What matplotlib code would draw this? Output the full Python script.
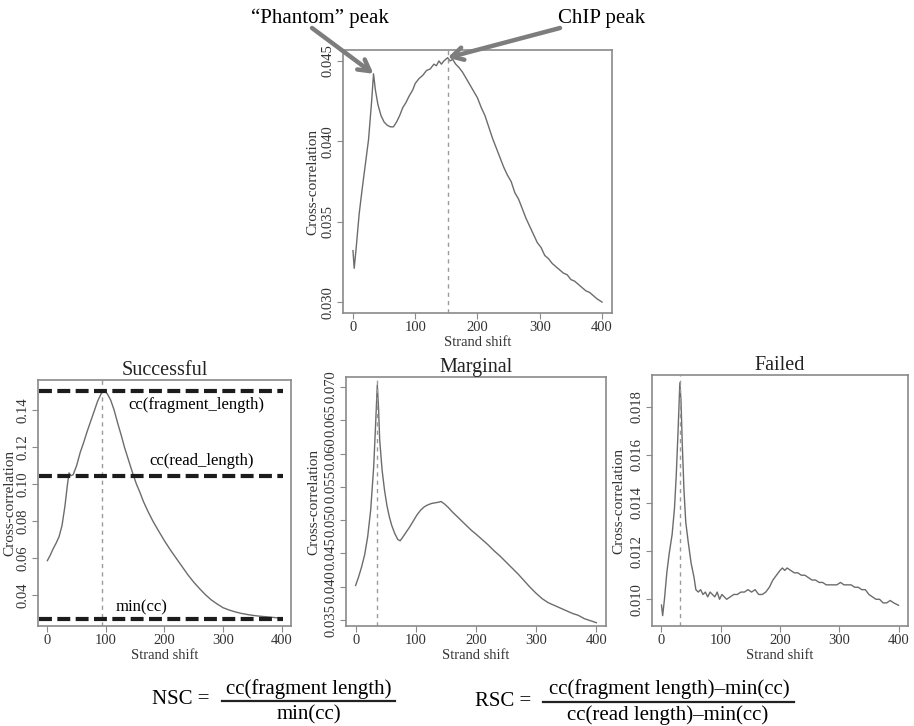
import numpy as np
import matplotlib
matplotlib.use("Agg")
import matplotlib.pyplot as plt
from matplotlib.lines import Line2D

plt.rcParams['font.family'] = 'serif'
plt.rcParams['font.serif'] = ['Liberation Serif', 'DejaVu Serif']

W, H = 914, 726

# --- data ---
top_x = [0, 2, 5, 10, 15, 20, 25, 30, 33, 36, 40, 45, 50, 55, 60, 65, 70, 75, 80, 85,
         90, 96, 100, 106, 112, 118, 124, 130, 134, 138, 142, 146, 152, 156, 160, 165,
         170, 176, 182, 188, 194, 200, 206, 212, 218, 224, 230, 236, 242, 248, 254, 260,
         266, 272, 278, 284, 290, 296, 302, 308, 314, 320, 326, 332, 338, 344, 350, 356,
         362, 368, 374, 380, 386, 392, 400]
top_y = [0.0332, 0.0321, 0.0333, 0.0355, 0.0371, 0.0386, 0.0401, 0.0425, 0.0442, 0.0432,
         0.0423, 0.0416, 0.0412, 0.0410, 0.0409, 0.0409, 0.0412, 0.0416, 0.0421, 0.0424,
         0.0428, 0.0432, 0.0436, 0.0439, 0.0441, 0.0444, 0.0445, 0.0448, 0.0447, 0.0450,
         0.0448, 0.0450, 0.0452, 0.0450, 0.0451, 0.0448, 0.0446, 0.0443, 0.0439, 0.0435,
         0.0431, 0.0427, 0.0421, 0.0416, 0.0409, 0.0402, 0.0396, 0.0390, 0.0384, 0.0379,
         0.0375, 0.0368, 0.0364, 0.0358, 0.0352, 0.0347, 0.0342, 0.0337, 0.0334, 0.0329,
         0.0327, 0.0324, 0.0322, 0.0320, 0.0318, 0.0317, 0.0314, 0.0313, 0.0311, 0.0309,
         0.0307, 0.0306, 0.0304, 0.0302, 0.0300]
top_peak = 152

succ_x = [0, 5, 10, 15, 20, 25, 30, 34, 37, 40, 44, 50, 56, 62, 68, 74, 80, 86, 92, 97,
          102, 108, 114, 120, 126, 132, 140, 146, 152, 158, 164, 172, 180, 190, 200, 210,
          220, 230, 240, 250, 260, 270, 280, 290, 300, 310, 320, 330, 340, 350, 360, 370,
          380, 390, 400]
succ_y = [0.0585, 0.0615, 0.0650, 0.0680, 0.0715, 0.0775, 0.0880, 0.0990, 0.1060, 0.1045,
          0.1050, 0.1100, 0.1170, 0.1225, 0.1285, 0.1340, 0.1395, 0.1450, 0.1490, 0.1505,
          0.1490, 0.1455, 0.1400, 0.1330, 0.1265, 0.1195, 0.1115, 0.1055, 0.1000, 0.0955,
          0.0905, 0.0850, 0.0800, 0.0745, 0.0692, 0.0643, 0.0598, 0.0553, 0.0508, 0.0468,
          0.0433, 0.0400, 0.0372, 0.0350, 0.0330, 0.0318, 0.0308, 0.0300, 0.0294, 0.0289,
          0.0285, 0.0282, 0.0279, 0.0276, 0.0273]
succ_peak = 94
cc_fragment = 0.1505
cc_read = 0.1045
cc_min = 0.0269

marg_x = [0, 5, 10, 15, 20, 25, 30, 33, 36, 38, 40, 44, 48, 52, 56, 60, 65, 70, 74, 78,
          84, 90, 96, 102, 108, 114, 120, 126, 132, 138, 142, 148, 154, 160, 168, 176,
          184, 192, 200, 210, 220, 230, 240, 250, 260, 270, 280, 290, 300, 310, 320, 330,
          340, 350, 360, 370, 380, 390, 400]
marg_y = [0.0402, 0.0415, 0.0430, 0.0448, 0.0475, 0.0515, 0.0580, 0.0640, 0.0703, 0.0670,
          0.0620, 0.0575, 0.0545, 0.0522, 0.0505, 0.0492, 0.0480, 0.0471, 0.0469, 0.0474,
          0.0482, 0.0490, 0.0499, 0.0508, 0.0515, 0.0520, 0.0523, 0.0525, 0.0526, 0.0527,
          0.0528, 0.0524, 0.0519, 0.0513, 0.0506, 0.0499, 0.0492, 0.0485, 0.0479, 0.0471,
          0.0463, 0.0454, 0.0446, 0.0437, 0.0428, 0.0419, 0.0409, 0.0399, 0.0390, 0.0382,
          0.0376, 0.0372, 0.0368, 0.0364, 0.0360, 0.0357, 0.0352, 0.0349, 0.0346]
marg_peak = 36

fail_x = [0, 2, 5, 9, 13, 18, 22, 25, 28, 31, 33, 35, 38, 41, 45, 50, 55, 58, 62, 66,
          70, 74, 78, 82, 86, 90, 94, 98, 102, 106, 110, 116, 122, 128, 134, 140, 146,
          152, 158, 164, 170, 176, 182, 188, 194, 200, 204, 208, 212, 218, 224, 230, 236,
          242, 248, 254, 260, 266, 272, 278, 284, 290, 296, 302, 308, 314, 320, 326, 332,
          338, 344, 350, 356, 362, 368, 374, 380, 386, 392, 400]
fail_y = [0.00976, 0.00932, 0.0100, 0.0111, 0.0119, 0.0127, 0.0138, 0.0152, 0.0170, 0.0190,
          0.0182, 0.0165, 0.0145, 0.0132, 0.0124, 0.0115, 0.0109, 0.0104, 0.0103, 0.0104,
          0.0102, 0.0103, 0.0101, 0.0103, 0.0102, 0.0101, 0.0103, 0.0100, 0.0102, 0.0101,
          0.0100, 0.0101, 0.0102, 0.0102, 0.0103, 0.0103, 0.0104, 0.0103, 0.0104, 0.0102,
          0.0102, 0.0103, 0.0105, 0.0108, 0.0110, 0.0112, 0.0113, 0.0112, 0.0113, 0.0112,
          0.0111, 0.0111, 0.0110, 0.0110, 0.0109, 0.0108, 0.0108, 0.0107, 0.0107, 0.0106,
          0.0106, 0.0106, 0.0106, 0.0107, 0.0106, 0.0106, 0.0106, 0.0105, 0.0105, 0.0104,
          0.0104, 0.0102, 0.0101, 0.0100, 0.0100, 0.00985, 0.00985, 0.00995, 0.00985, 0.00975]
fail_peak = 32

xticks = [0, 100, 200, 300, 400]

CURVE = '#6c6c6c'
FRAME = '#8a8a8a'


def box(l, t, r, b):
    # pixel box -> figure fraction rect
    return [l / W, 1 - b / H, (r - l) / W, (b - t) / H]


def fx(x):
    return x / W


def fy(y):
    return 1 - y / H


def panel(rect, xs, ys, peak, ylim, yticks, yfmt, title=None, ylpad=2):
    ax = fig.add_axes(rect)
    ax.plot(xs, ys, color=CURVE, lw=1.0)
    ax.axvline(peak, color='#9a9a9a', lw=1.0, ls=(0, (3, 3)))
    ax.set_xlim(-16, 416)
    ax.set_ylim(*ylim)
    ax.set_xticks(xticks)
    ax.set_yticks(yticks)
    ax.set_yticklabels([yfmt.format(v) for v in yticks], rotation=90, va='center')
    for s in ax.spines.values():
        s.set_color(FRAME)
        s.set_linewidth(1.2)
    ax.tick_params(colors='#333333', length=4, width=0.8, pad=2, labelsize=10.5)
    ax.tick_params(color=FRAME)
    ax.set_xlabel('Strand shift', fontsize=10.5, labelpad=1, color='#333333')
    ax.set_ylabel('Cross-correlation', fontsize=11, labelpad=ylpad, color='#333333')
    if title:
        ax.set_title(title, fontsize=14.5, pad=3, color='#222222')
    return ax


fig = plt.figure(figsize=(W / 100, H / 100), dpi=100)

# top panel
ax0 = panel(box(343, 50, 612, 313), top_x, top_y, top_peak, (0.02932, 0.04568),
            [0.030, 0.035, 0.040, 0.045], '{:.3f}')

# bottom panels
ax1 = panel(box(38, 380, 291, 626), succ_x, succ_y, succ_peak, (0.0231, 0.1563),
            [0.04, 0.06, 0.08, 0.10, 0.12, 0.14], '{:.2f}', 'Successful', ylpad=0)
ax2 = panel(box(346, 377, 606, 626), marg_x, marg_y, marg_peak, (0.0341, 0.0715),
            [0.035, 0.040, 0.045, 0.050, 0.055, 0.060, 0.065, 0.070], '{:.3f}', 'Marginal',
            ylpad=3)
ax3 = panel(box(652, 375, 908, 626), fail_x, fail_y, fail_peak, (0.00889, 0.01932),
            [0.010, 0.012, 0.014, 0.016, 0.018], '{:.3f}', 'Failed', ylpad=4)

# reference levels on the successful panel
for lvl in [cc_fragment, cc_read, cc_min]:
    ax1.plot([-14, 403], [lvl, lvl], color='#1c1c1c', lw=3, ls=(0, (3.1, 1.3)),
             solid_capstyle='butt', dash_capstyle='butt')
ax1.text(254, 0.1425, 'cc(fragment_length)', ha='center', va='center', fontsize=12)
ax1.text(263, 0.1125, 'cc(read_length)', ha='center', va='center', fontsize=12)
ax1.text(161, 0.0334, 'min(cc)', ha='center', va='center', fontsize=12)

# arrows to the peaks of the top panel
arrow = dict(arrowstyle='->,head_length=0.8,head_width=0.45', color='#7d7d7d', lw=3.2,
             shrinkA=0, shrinkB=0)
ax0.annotate('', xy=(top_x[8], top_y[8]), xytext=(fx(312), fy(28)),
             textcoords='figure fraction', arrowprops=arrow)
ax0.annotate('', xy=(top_peak, top_y[32]), xytext=(fx(560), fy(28)),
             textcoords='figure fraction', arrowprops=arrow)
fig.text(fx(251), fy(18), '\u201cPhantom\u201d peak', ha='left', va='center', fontsize=15)
fig.text(fx(558), fy(18), 'ChIP peak', ha='left', va='center', fontsize=15)

# formulas
fs = 15
fig.text(fx(210), fy(700), 'NSC =', ha='right', va='center', fontsize=fs)
fig.text(fx(309), fy(689), 'cc(fragment length)', ha='center', va='center', fontsize=fs)
fig.text(fx(309), fy(715), 'min(cc)', ha='center', va='center', fontsize=fs)
fig.add_artist(Line2D([fx(222), fx(395)], [fy(701), fy(701)], color='#222222', lw=1.6,
                      transform=fig.transFigure))

fig.text(fx(531), fy(701), 'RSC =', ha='right', va='center', fontsize=fs)
fig.text(fx(669), fy(689), 'cc(fragment length)\u2013min(cc)', ha='center', va='center',
         fontsize=fs)
fig.text(fx(668), fy(715), 'cc(read length)\u2013min(cc)', ha='center', va='center',
         fontsize=fs)
fig.add_artist(Line2D([fx(543), fx(794)], [fy(702), fy(702)], color='#222222', lw=1.6,
                      transform=fig.transFigure))

fig.savefig('out.png', dpi=100)
